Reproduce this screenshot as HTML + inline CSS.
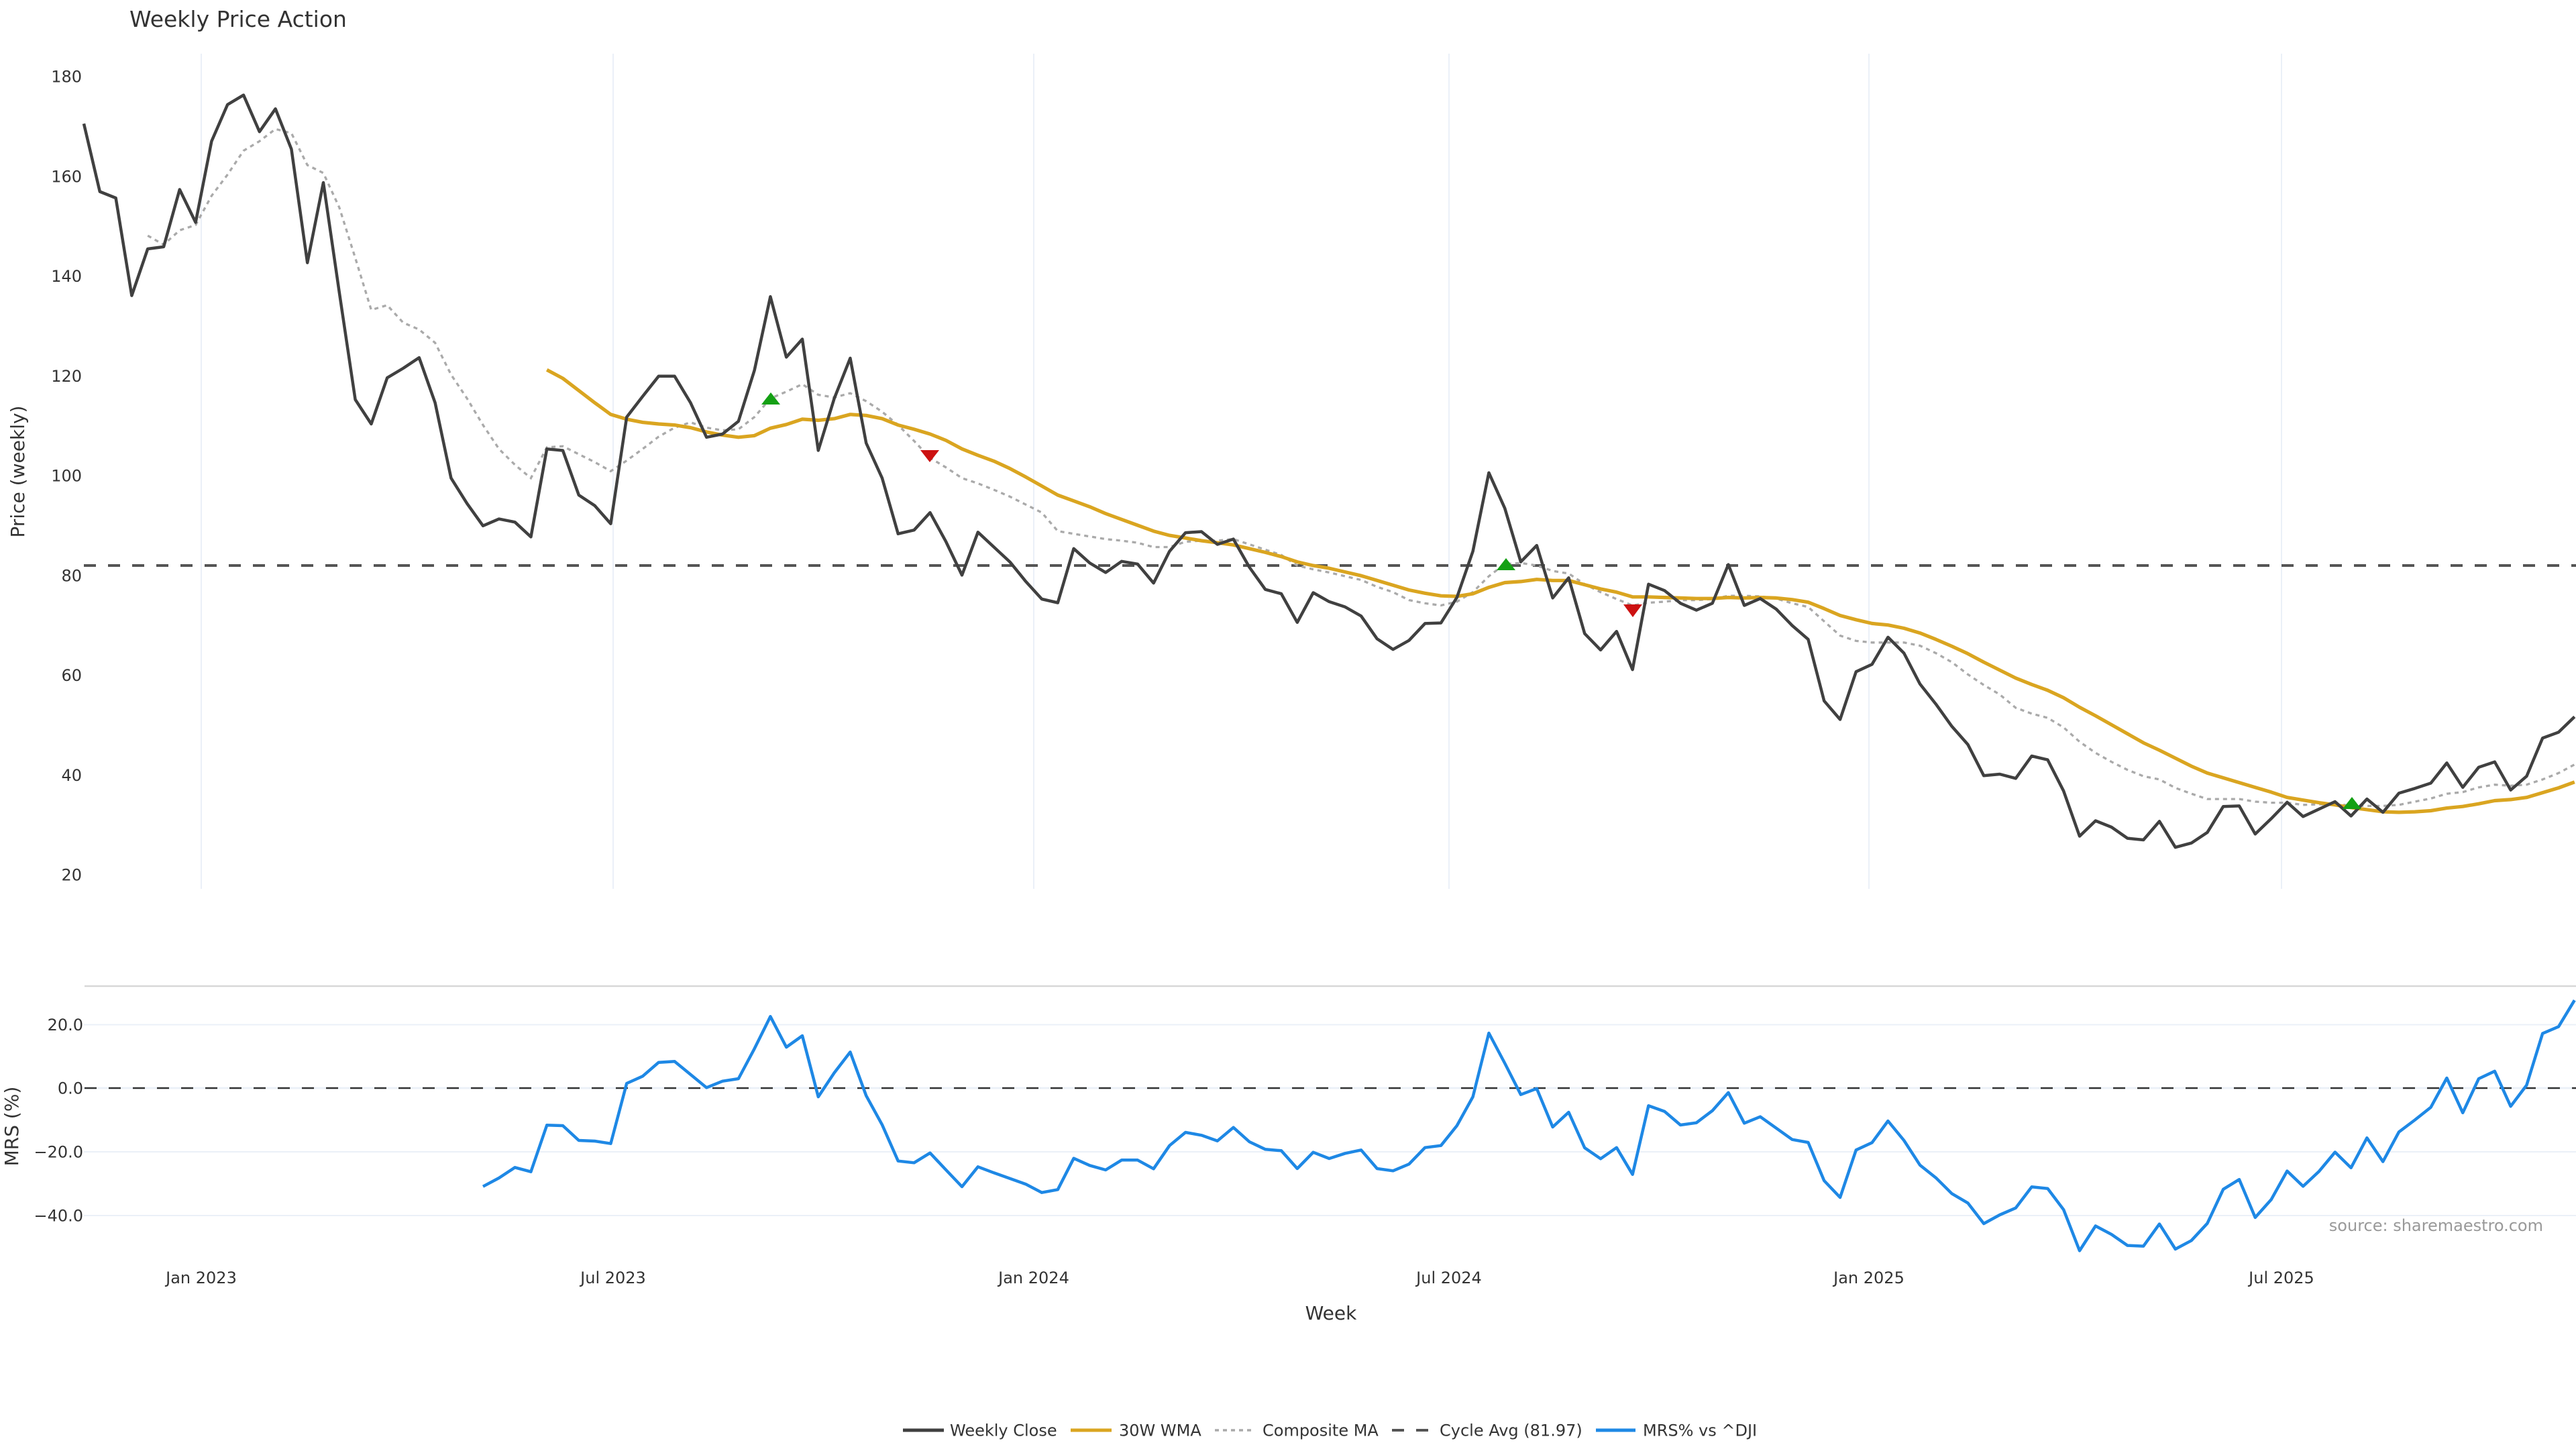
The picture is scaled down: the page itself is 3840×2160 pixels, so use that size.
<!DOCTYPE html>
<html>
<head>
<meta charset="utf-8">
<style>
html,body{margin:0;padding:0;background:#fff;}
svg{display:block;}
text{font-family:"DejaVu Sans","Liberation Sans",sans-serif;fill:#333;}
</style>
</head>
<body>
<svg width="3840" height="2160" viewBox="0 0 3840 2160" xmlns="http://www.w3.org/2000/svg">
<rect width="3840" height="2160" fill="#fff"/>

<!-- title -->
<text x="193" y="40" font-size="33">Weekly Price Action</text>

<!-- top panel vertical gridlines -->
<g stroke="#EBF0F8" stroke-width="2">
<line x1="300" y1="80" x2="300" y2="1325"/>
<line x1="914" y1="80" x2="914" y2="1325"/>
<line x1="1541" y1="80" x2="1541" y2="1325"/>
<line x1="2160" y1="80" x2="2160" y2="1325"/>
<line x1="2786" y1="80" x2="2786" y2="1325"/>
<line x1="3401" y1="80" x2="3401" y2="1325"/>
</g>

<!-- top y ticks -->
<g font-size="24" text-anchor="end">
<text x="122" y="122.7">180</text>
<text x="122" y="271.4">160</text>
<text x="122" y="420.2">140</text>
<text x="122" y="568.9">120</text>
<text x="122" y="717.7">100</text>
<text x="122" y="866.4">80</text>
<text x="122" y="1015.1">60</text>
<text x="122" y="1163.9">40</text>
<text x="122" y="1312.6">20</text>
</g>
<text font-size="28" text-anchor="middle" transform="translate(36,703) rotate(-90)">Price (weekly)</text>

<!-- cycle avg line -->
<line x1="125" y1="843" x2="3840" y2="843" stroke="#555" stroke-width="4" stroke-dasharray="18,18"/>

<!-- composite MA -->
<polyline fill="none" stroke="#AAAAAA" stroke-width="3.3" stroke-dasharray="6,6" points="220.2,351.3 244.0,364.7 267.8,343.3 291.6,335.4 315.4,291.9 339.2,260.3 363.0,224.7 386.8,210.5 410.6,192.3 434.4,198.6 458.2,246.1 482.0,257.9 505.8,309.3 529.6,384.5 553.4,462.0 577.2,454.9 601.0,481.0 624.8,491.2 648.6,511.0 672.4,558.5 696.2,594.0 720.0,633.6 743.8,669.2 767.6,692.9 791.4,712.7 815.2,666.8 839.0,665.2 862.8,677.1 886.6,688.9 910.4,702.4 934.2,686.6 958.0,669.2 981.8,651.0 1005.6,637.5 1029.4,629.6 1053.2,637.5 1077.0,641.5 1100.8,639.9 1124.6,621.7 1148.4,594.0 1172.2,583.8 1196.0,572.7 1219.8,588.5 1243.6,592.5 1267.4,586.1 1291.2,598.0 1315.0,613.8 1338.8,633.6 1362.6,657.3 1386.4,682.6 1410.2,696.8 1434.0,712.7 1457.8,720.6 1481.6,730.1 1505.4,740.3 1529.2,752.2 1553.0,764.1 1576.8,791.7 1600.6,795.7 1624.4,799.7 1648.2,803.6 1672.0,806.0 1695.8,809.1 1719.6,815.5 1743.4,815.5 1767.2,807.6 1791.0,806.0 1814.8,806.0 1838.6,803.6 1862.4,811.5 1886.2,819.4 1910.0,827.3 1933.8,843.1 1957.6,848.7 1981.4,853.4 2005.2,859.0 2029.0,864.5 2052.8,874.8 2076.6,882.7 2100.4,894.6 2124.2,899.3 2148.0,902.5 2171.8,896.9 2195.6,882.7 2219.4,859.0 2243.2,840.8 2267.0,839.2 2290.8,843.1 2314.6,851.1 2338.4,855.0 2362.2,870.8 2386.0,882.7 2409.8,893.0 2433.6,902.5 2457.4,898.5 2481.2,896.9 2505.0,894.6 2528.8,894.6 2552.6,893.0 2576.4,888.2 2600.2,888.2 2624.0,889.0 2647.8,892.2 2671.6,899.3 2695.4,904.8 2719.2,926.2 2743.0,947.5 2766.8,955.4 2790.6,957.8 2814.4,957.8 2838.2,957.8 2862.0,962.5 2885.8,973.6 2909.6,987.1 2933.4,1005.3 2957.2,1021.1 2981.0,1035.3 3004.8,1055.1 3028.6,1063.8 3052.4,1070.1 3076.2,1084.4 3100.0,1105.7 3123.8,1122.3 3147.6,1135.7 3171.4,1147.6 3195.2,1157.1 3219.0,1161.9 3242.8,1174.5 3266.6,1183.2 3290.4,1191.1 3314.2,1191.1 3338.0,1191.1 3361.8,1195.0 3385.6,1196.6 3409.4,1196.6 3433.2,1199.8 3457.0,1199.0 3480.8,1199.0 3504.6,1200.6 3528.4,1201.4 3552.2,1201.4 3576.0,1199.8 3599.8,1195.0 3623.6,1190.3 3647.4,1183.2 3671.2,1180.8 3695.0,1173.7 3718.8,1169.7 3742.6,1171.3 3766.4,1169.7 3790.2,1161.9 3814.0,1152.4 3837.8,1139.7"/>

<!-- 30W WMA -->
<polyline fill="none" stroke="#DAA520" stroke-width="5.2" stroke-linejoin="round" points="815.2,551.3 839.0,564.0 862.8,582.2 886.6,600.4 910.4,617.8 934.2,624.9 958.0,629.6 981.8,632.0 1005.6,633.6 1029.4,637.5 1053.2,643.9 1077.0,648.6 1100.8,651.8 1124.6,649.4 1148.4,638.3 1172.2,632.8 1196.0,624.9 1219.8,626.5 1243.6,624.1 1267.4,617.8 1291.2,619.3 1315.0,624.1 1338.8,633.6 1362.6,639.9 1386.4,647.0 1410.2,656.5 1434.0,669.2 1457.8,678.7 1481.6,687.4 1505.4,698.4 1529.2,711.1 1553.0,724.5 1576.8,738.0 1600.6,746.7 1624.4,755.4 1648.2,765.6 1672.0,774.3 1695.8,783.0 1719.6,791.7 1743.4,798.1 1767.2,802.0 1791.0,806.0 1814.8,809.1 1838.6,812.3 1862.4,817.8 1886.2,823.4 1910.0,829.7 1933.8,837.6 1957.6,843.1 1981.4,847.1 2005.2,852.6 2029.0,858.2 2052.8,865.3 2076.6,872.4 2100.4,879.5 2124.2,884.3 2148.0,888.2 2171.8,889.0 2195.6,885.1 2219.4,875.6 2243.2,868.5 2267.0,866.9 2290.8,863.7 2314.6,865.3 2338.4,865.3 2362.2,871.6 2386.0,877.9 2409.8,882.7 2433.6,889.8 2457.4,889.8 2481.2,890.6 2505.0,891.4 2528.8,892.2 2552.6,892.2 2576.4,890.6 2600.2,891.4 2624.0,890.6 2647.8,891.4 2671.6,893.8 2695.4,897.7 2719.2,907.2 2743.0,917.5 2766.8,923.8 2790.6,929.4 2814.4,931.7 2838.2,936.5 2862.0,943.6 2885.8,953.1 2909.6,963.4 2933.4,974.4 2957.2,987.1 2981.0,998.9 3004.8,1010.8 3028.6,1020.3 3052.4,1029.0 3076.2,1040.1 3100.0,1054.3 3123.8,1067.0 3147.6,1080.4 3171.4,1093.8 3195.2,1107.3 3219.0,1118.3 3242.8,1130.2 3266.6,1142.1 3290.4,1152.4 3314.2,1159.5 3338.0,1166.6 3361.8,1173.7 3385.6,1180.8 3409.4,1188.7 3433.2,1192.7 3457.0,1196.6 3480.8,1199.8 3504.6,1203.8 3528.4,1206.9 3552.2,1210.1 3576.0,1210.9 3599.8,1210.1 3623.6,1208.5 3647.4,1204.6 3671.2,1202.2 3695.0,1198.2 3718.8,1193.5 3742.6,1191.9 3766.4,1188.7 3790.2,1181.6 3814.0,1174.5 3837.8,1165.8"/>

<!-- weekly close -->
<polyline fill="none" stroke="#404040" stroke-width="4.5" stroke-linejoin="round" points="125.0,184.4 148.8,285.6 172.6,295.1 196.4,440.6 220.2,371.0 244.0,367.9 267.8,282.5 291.6,331.5 315.4,210.5 339.2,155.9 363.0,141.7 386.8,196.3 410.6,162.2 434.4,222.3 458.2,391.6 482.0,272.2 505.8,435.9 529.6,595.6 553.4,632.0 577.2,563.2 601.0,549.0 624.8,533.1 648.6,600.4 672.4,712.7 696.2,750.6 720.0,783.8 743.8,773.6 767.6,778.3 791.4,800.4 815.2,669.2 839.0,671.5 862.8,738.0 886.6,753.8 910.4,780.7 934.2,621.7 958.0,590.9 981.8,560.8 1005.6,560.8 1029.4,600.4 1053.2,651.8 1077.0,647.0 1100.8,628.0 1124.6,552.1 1148.4,442.2 1172.2,532.4 1196.0,505.5 1219.8,671.5 1243.6,594.0 1267.4,533.9 1291.2,660.5 1315.0,712.7 1338.8,795.7 1362.6,790.2 1386.4,764.1 1410.2,807.6 1434.0,857.4 1457.8,793.3 1481.6,815.5 1505.4,837.6 1529.2,866.9 1553.0,893.0 1576.8,898.5 1600.6,817.8 1624.4,839.2 1648.2,853.4 1672.0,836.8 1695.8,840.8 1719.6,869.2 1743.4,821.8 1767.2,794.1 1791.0,792.5 1814.8,811.5 1838.6,803.6 1862.4,845.5 1886.2,878.7 1910.0,885.1 1933.8,927.8 1957.6,883.5 1981.4,896.9 2005.2,904.8 2029.0,918.3 2052.8,952.3 2076.6,968.1 2100.4,954.7 2124.2,929.4 2148.0,928.6 2171.8,890.6 2195.6,821.8 2219.4,704.7 2243.2,757.7 2267.0,837.6 2290.8,813.1 2314.6,891.4 2338.4,861.3 2362.2,944.4 2386.0,968.9 2409.8,941.2 2433.6,998.2 2457.4,870.8 2481.2,880.3 2505.0,899.3 2528.8,909.6 2552.6,899.3 2576.4,841.6 2600.2,902.5 2624.0,892.2 2647.8,908.0 2671.6,932.5 2695.4,953.1 2719.2,1044.8 2743.0,1072.5 2766.8,1001.3 2790.6,990.3 2814.4,949.9 2838.2,973.6 2862.0,1019.5 2885.8,1049.6 2909.6,1082.8 2933.4,1109.7 2957.2,1156.3 2981.0,1154.0 3004.8,1160.3 3028.6,1127.0 3052.4,1132.6 3076.2,1179.2 3100.0,1246.5 3123.8,1223.5 3147.6,1233.0 3171.4,1249.6 3195.2,1252.0 3219.0,1224.3 3242.8,1263.1 3266.6,1256.7 3290.4,1240.9 3314.2,1202.2 3338.0,1201.4 3361.8,1243.3 3385.6,1220.4 3409.4,1195.9 3433.2,1217.2 3457.0,1206.1 3480.8,1195.0 3504.6,1216.4 3528.4,1191.1 3552.2,1210.9 3576.0,1182.4 3599.8,1175.3 3623.6,1167.4 3647.4,1137.3 3671.2,1173.7 3695.0,1143.7 3718.8,1135.7 3742.6,1177.7 3766.4,1157.1 3790.2,1100.2 3814.0,1091.5 3837.8,1068.5"/>

<!-- signal markers -->
<g fill="#14A014">
<polygon points="1149,585 1135,603 1163,603"/>
<polygon points="2245,832 2231,850 2259,850"/>
<polygon points="3506,1188 3492,1206 3520,1206"/>
</g>
<g fill="#CC1111">
<polygon points="1372,671 1400,671 1386,689"/>
<polygon points="2420,901 2448,901 2434,920"/>
</g>

<!-- separator -->
<line x1="126" y1="1470" x2="3840" y2="1470" stroke="#D8D8D8" stroke-width="2.5"/>

<!-- bottom gridlines -->
<g stroke="#EBF0F8" stroke-width="2">
<line x1="125" y1="1527.5" x2="3840" y2="1527.5"/>
<line x1="125" y1="1622" x2="3840" y2="1622" stroke-width="3"/>
<line x1="125" y1="1717" x2="3840" y2="1717"/>
<line x1="125" y1="1812" x2="3840" y2="1812"/>
</g>
<line x1="126" y1="1622" x2="3840" y2="1622" stroke="#333" stroke-width="2.5" stroke-dasharray="18,18"/>

<!-- bottom ticks -->
<g font-size="24" text-anchor="end">
<text x="124" y="1536">20.0</text>
<text x="124" y="1630.7">0.0</text>
<text x="124" y="1725.7">−20.0</text>
<text x="124" y="1820.7">−40.0</text>
</g>
<text font-size="28" text-anchor="middle" transform="translate(27,1679) rotate(-90)">MRS (%)</text>

<!-- MRS line -->
<polyline fill="none" stroke="#1E88E5" stroke-width="4.5" stroke-linejoin="round" points="720.0,1768.7 743.8,1756.0 767.6,1740.3 791.4,1746.7 815.2,1677.3 839.0,1678.0 862.8,1700.0 886.6,1701.0 910.4,1704.7 934.2,1615.0 958.0,1604.3 981.8,1583.7 1005.6,1582.3 1029.4,1601.7 1053.2,1621.3 1077.0,1611.7 1100.8,1608.0 1124.6,1563.3 1148.4,1515.3 1172.2,1561.0 1196.0,1544.0 1219.8,1635.0 1243.6,1599.3 1267.4,1568.3 1291.2,1633.3 1315.0,1676.7 1338.8,1730.7 1362.6,1733.3 1386.4,1718.7 1410.2,1744.0 1434.0,1769.0 1457.8,1739.3 1481.6,1748.3 1505.4,1756.7 1529.2,1765.3 1553.0,1777.7 1576.8,1773.3 1600.6,1726.7 1624.4,1737.3 1648.2,1744.0 1672.0,1729.3 1695.8,1729.3 1719.6,1742.3 1743.4,1707.7 1767.2,1688.0 1791.0,1692.3 1814.8,1700.7 1838.6,1680.7 1862.4,1702.0 1886.2,1713.3 1910.0,1715.3 1933.8,1742.0 1957.6,1717.7 1981.4,1727.0 2005.2,1719.3 2029.0,1714.3 2052.8,1742.0 2076.6,1745.3 2100.4,1735.3 2124.2,1710.7 2148.0,1707.7 2171.8,1678.0 2195.6,1635.0 2219.4,1540.0 2243.2,1585.0 2267.0,1631.7 2290.8,1622.7 2314.6,1680.0 2338.4,1658.0 2362.2,1711.0 2386.0,1727.3 2409.8,1710.7 2433.6,1750.7 2457.4,1648.3 2481.2,1656.7 2505.0,1677.0 2528.8,1673.7 2552.6,1655.7 2576.4,1628.7 2600.2,1674.3 2624.0,1664.7 2647.8,1681.7 2671.6,1698.7 2695.4,1703.0 2719.2,1760.0 2743.0,1785.0 2766.8,1714.3 2790.6,1703.3 2814.4,1671.0 2838.2,1700.0 2862.0,1736.7 2885.8,1755.7 2909.6,1779.3 2933.4,1793.3 2957.2,1824.0 2981.0,1811.0 3004.8,1800.7 3028.6,1769.3 3052.4,1771.7 3076.2,1803.3 3100.0,1864.4 3123.8,1827.5 3147.6,1840.1 3171.4,1856.6 3195.2,1857.6 3219.0,1824.6 3242.8,1862.0 3266.6,1849.3 3290.4,1823.7 3314.2,1772.8 3338.0,1758.2 3361.8,1814.9 3385.6,1788.3 3409.4,1745.6 3433.2,1768.4 3457.0,1746.1 3480.8,1717.5 3504.6,1740.8 3528.4,1696.2 3552.2,1731.6 3576.0,1687.4 3599.8,1669.5 3623.6,1650.6 3647.4,1607.0 3671.2,1658.8 3695.0,1608.0 3718.8,1596.8 3742.6,1649.2 3766.4,1617.6 3790.2,1540.6 3814.0,1530.4 3837.8,1491.1"/>

<!-- source -->
<text x="3791" y="1835" font-size="24" text-anchor="end" style="fill:#999">source: sharemaestro.com</text>

<!-- x tick labels -->
<g font-size="24" text-anchor="middle">
<text x="300" y="1913">Jan 2023</text>
<text x="914" y="1913">Jul 2023</text>
<text x="1541" y="1913">Jan 2024</text>
<text x="2160" y="1913">Jul 2024</text>
<text x="2786" y="1913">Jan 2025</text>
<text x="3401" y="1913">Jul 2025</text>
</g>
<text x="1984" y="1967" font-size="28" text-anchor="middle">Week</text>

<!-- legend -->
<line x1="1346" y1="2132" x2="1407" y2="2132" stroke="#404040" stroke-width="5"/>
<text x="1416" y="2140.5" font-size="24">Weekly Close</text>
<line x1="1596" y1="2132" x2="1657" y2="2132" stroke="#DAA520" stroke-width="5"/>
<text x="1668" y="2140.5" font-size="24">30W WMA</text>
<line x1="1811" y1="2132" x2="1868" y2="2132" stroke="#AAAAAA" stroke-width="3.5" stroke-dasharray="6,6"/>
<text x="1882" y="2140.5" font-size="24">Composite MA</text>
<line x1="2075" y1="2132" x2="2129" y2="2132" stroke="#555" stroke-width="4" stroke-dasharray="18,18"/>
<text x="2146" y="2140.5" font-size="24">Cycle Avg (81.97)</text>
<line x1="2379" y1="2132" x2="2438" y2="2132" stroke="#1E88E5" stroke-width="5"/>
<text x="2449" y="2140.5" font-size="24">MRS% vs ^DJI</text>
</svg>
</body>
</html>
